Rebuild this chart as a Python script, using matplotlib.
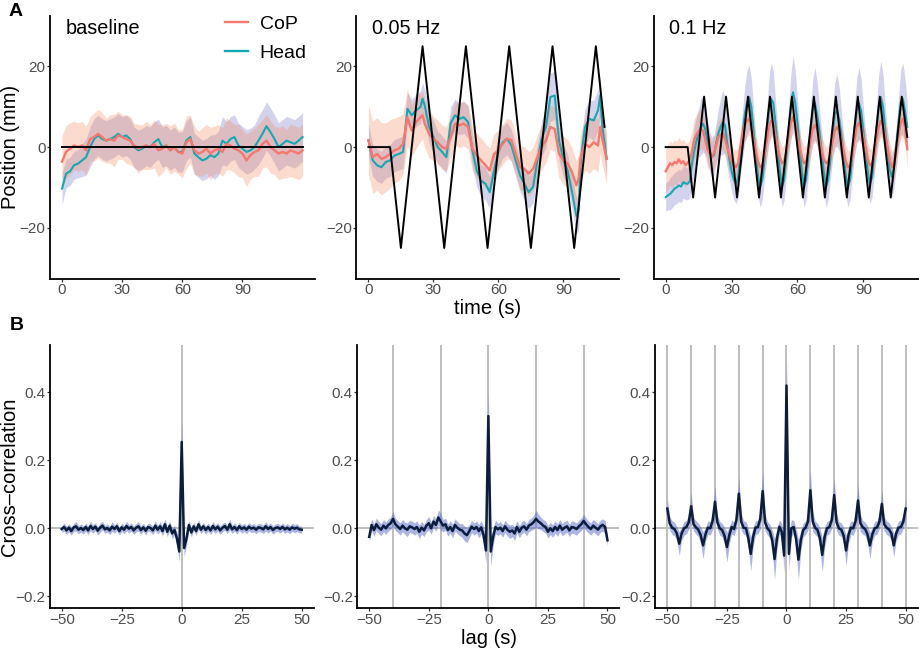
import numpy as np
import matplotlib
matplotlib.use('Agg')
import matplotlib.pyplot as plt
from matplotlib.lines import Line2D

plt.rcParams['font.family'] = ['Liberation Sans', 'DejaVu Sans']

# ---------------- Panel A data ----------------
panel_titles = ["baseline", "0.05 Hz", "0.1 Hz"]
series_names = ["CoP", "Head"]

# baseline (2 s steps, 0..120 s)
t_base = list(range(0, 121, 2))
cop_base = [-3.6, -1.2, -0.4, 0.4, 0.0, 0.4, -0.8, 2.0, 2.5, 3.3,
            2.5, 1.6, 2.0, 1.6, 2.9, 2.5, 2.0, 1.6, 0.4, -0.4,
            0.0, 0.4, 0.0, 0.8, -0.8, -0.4, 0.4, -0.8, 0.0, -1.2,
            -1.6, 1.2, 2.0, -0.8, -1.6, -1.2, -0.4, -1.6, -0.8, -0.4,
            -1.2, 0.8, 0.4, -0.4, -0.8, -1.6, -3.3, -2.0, -1.2, -0.8,
            0.8, 1.6, 0.0, -0.8, -1.6, -1.2, -1.6, -0.8, -1.2, -1.6,
            -0.8]
head_base = [-10.3, -6.6, -6.0, -4.5, -4.1, -3.3, -2.5, 0.0, 2.0, 2.9,
             2.0, 1.6, 2.0, 2.5, 3.3, 2.5, 2.9, 2.0, 0.0, -0.8,
             -0.4, 0.4, 0.0, 1.2, 2.0, 0.0, 0.4, -0.8, 0.0, -1.2,
             -1.2, 1.6, 2.5, -1.6, -2.5, -3.3, -2.9, -2.0, -2.5, -1.6,
             1.6, 0.8, 2.0, 2.5, 0.4, -0.4, -1.2, -0.8, 0.0, 1.6,
             3.3, 5.2, 3.7, 2.0, 0.0, 0.8, 1.6, 1.2, 0.8, 1.6,
             2.5]
cop_hw_base = [6.5, 6.5, 6.5, 6.0, 6.0, 6.0, 6.0, 5.5, 6.0, 6.0,
               6.0, 5.5, 6.0, 6.5, 6.0, 5.5, 6.0, 6.0, 5.5, 6.0,
               5.5, 6.0, 5.5, 6.0, 6.5, 6.0, 5.5, 6.0, 6.0, 5.5,
               6.0, 6.5, 6.0, 6.0, 5.5, 6.0, 6.0, 6.5, 6.0, 6.0,
               6.0, 6.5, 6.0, 6.0, 6.5, 6.0, 6.5, 6.0, 6.0, 6.5,
               6.0, 6.5, 6.5, 6.0, 6.5, 6.5, 6.0, 6.5, 6.5, 6.5,
               6.5]
head_hw_base = [4.0, 3.5, 3.5, 3.5, 3.5, 4.0, 4.5, 5.0, 5.0, 5.0,
                5.0, 5.0, 5.0, 5.0, 5.0, 5.0, 5.0, 5.0, 5.0, 5.0,
                5.0, 5.0, 5.0, 5.0, 5.0, 5.0, 5.0, 5.0, 5.0, 5.0,
                5.0, 5.0, 5.0, 5.0, 5.0, 5.0, 5.0, 5.0, 5.5, 5.5,
                6.0, 5.5, 5.5, 5.5, 5.5, 5.5, 5.5, 5.5, 5.5, 6.0,
                6.0, 6.0, 6.0, 6.0, 6.0, 6.0, 6.0, 6.0, 6.0, 6.0,
                6.0]
stim_base_t = [0, 120]
stim_base_v = [0, 0]

# 0.05 Hz
t_05 = [0, 2, 4, 6, 8, 10, 12, 14, 16, 18,
        20, 22, 24, 25, 26, 28, 30, 32, 34, 36,
        38, 40, 42, 44, 46, 48, 50, 52, 54, 56,
        58, 60, 62, 64, 66, 68, 70, 72, 74, 76,
        78, 80, 82, 84, 86, 88, 90, 92, 94, 96,
        97, 98, 100, 102, 104, 106, 107, 108, 110]
cop_05 = [1.7, -2.5, -1.7, -2.9, -2.5, -1.7, -0.8, -0.4, 0.8, 7.4,
          4.1, 6.2, 7.4, 7.9, 5.8, 3.3, 2.1, 1.2, 0.0, -0.4,
          2.5, 5.8, 5.4, 5.8, 5.0, -0.4, -2.1, -3.3, -4.5, -5.8,
          -1.7, -0.8, 0.8, 2.1, 1.7, -1.7, -5.0, -5.4, -6.6, -5.4,
          -2.5, 0.0, 1.7, 5.0, 4.5, -1.7, -3.3, -4.1, -6.2, -9.5,
          -8.0, -2.5, 0.8, 0.0, 1.2, 0.4, 5.0, 2.0, -2.9]
head_05 = [1.7, -3.3, -4.5, -5.0, -3.7, -3.3, -2.1, -1.7, -1.2, 9.5,
           7.9, 9.1, 9.9, 12.0, 10.3, 5.0, 2.5, 0.0, -1.2, -2.5,
           6.0, 7.9, 7.0, 7.4, 6.2, -0.8, -5.8, -8.3, -9.1, -11.2,
           -5.8, -1.2, 1.2, 2.1, 0.4, -3.3, -7.0, -9.1, -11.2, -9.9,
           -3.3, 2.1, 5.0, 12.4, 12.8, 1.7, -3.3, -5.8, -11.2, -17.0,
           -16.0, -3.3, 5.0, 7.0, 6.6, 9.1, 12.8, 5.0, -2.9]
cop_hw_05 = [8.5, 9.0, 9.0, 9.0, 8.5, 8.5, 8.0, 8.0, 7.5, 7.0,
             6.5, 6.5, 6.0, 6.0, 6.0, 6.0, 5.5, 5.5, 5.5, 5.5,
             5.5, 5.5, 5.5, 5.5, 5.5, 5.5, 5.5, 5.5, 5.5, 5.5,
             5.0, 5.0, 5.0, 5.0, 5.0, 5.0, 5.5, 5.5, 5.5, 5.5,
             5.5, 5.5, 5.5, 5.5, 5.5, 6.0, 6.0, 6.0, 6.0, 6.0,
             6.0, 6.0, 6.5, 6.5, 6.5, 6.5, 6.5, 6.5, 6.5]
head_hw_05 = [4.0, 4.0, 4.0, 4.0, 4.0, 4.0, 4.0, 4.0, 4.0, 4.0,
              4.0, 4.0, 4.0, 4.0, 4.0, 4.0, 4.0, 4.0, 4.0, 4.0,
              4.0, 4.0, 4.0, 4.0, 4.0, 4.0, 4.0, 4.0, 4.0, 4.0,
              4.0, 4.0, 4.0, 4.0, 4.0, 4.0, 4.0, 4.0, 4.0, 4.0,
              4.0, 4.5, 5.0, 6.0, 6.0, 5.0, 4.0, 4.0, 4.0, 4.5,
              4.5, 4.5, 4.5, 4.5, 5.0, 5.0, 5.0, 4.5, 4.0]
stim_05_t = [0, 10, 15, 25, 35, 45, 55, 65, 75, 85, 95, 105, 109]
stim_05_v = [0, 0, -25, 25, -25, 25, -25, 25, -25, 25, -25, 25, 5]

# 0.1 Hz (1 s steps, 0..110 s)
t_1 = list(range(0, 111))
cop_1 = [-6.0, -5.0, -4.0, -4.5, -3.7, -4.0, -3.0, -4.0, -3.5, -4.5,
         -4.0, -3.0, -1.0, 2.0, 3.0, 4.0, 4.5, 4.0, 2.0, -0.5,
         -1.5, -2.5, -1.5, 0.5, 2.5, 3.0, 3.5, 2.0, 0.0, -2.0,
         -3.5, -4.5, -5.0, -4.0, 0.0, 3.0, 5.5, 6.6, 7.0, 5.0,
         2.0, -1.0, -3.5, -5.0, -4.5, -2.0, 1.5, 5.0, 6.5, 6.0,
         3.0, 0.0, -2.5, -4.0, -3.5, -1.0, 3.0, 6.0, 7.5, 6.0,
         3.0, 0.0, -2.5, -4.0, -3.5, -1.5, 2.0, 4.5, 5.5, 4.5,
         2.0, -1.0, -3.0, -4.0, -3.5, -2.0, 1.5, 4.0, 5.0, 4.0,
         1.5, -1.0, -3.5, -5.0, -4.5, -2.0, 2.0, 5.0, 6.0, 5.0,
         2.5, 0.0, -3.0, -4.5, -4.0, -2.0, 2.0, 5.0, 6.5, 5.5,
         2.5, 0.0, -3.0, -5.0, -4.0, -1.0, 3.0, 6.0, 7.0, 5.0,
         -0.5]
head_1 = [-12.4, -12.0, -11.6, -11.0, -10.3, -10.0, -9.5, -9.8, -8.7, -9.0,
          -9.1, -8.5, -4.0, -1.0, 1.5, 3.5, 5.0, 5.8, 4.5, 1.5,
          -1.0, -2.5, -2.0, 1.0, 3.5, 5.0, 6.2, 5.5, 1.0, -3.0,
          -6.0, -8.0, -9.1, -7.5, -2.0, 3.0, 8.0, 11.0, 12.4, 10.0,
          4.0, -2.0, -7.0, -9.9, -8.0, -3.0, 3.0, 9.0, 12.0, 11.0,
          6.0, 0.0, -6.0, -9.9, -8.0, -2.0, 4.0, 10.0, 13.6, 11.0,
          6.0, 0.0, -6.0, -9.9, -8.0, -2.0, 4.0, 9.0, 10.8, 8.0,
          4.0, -1.0, -6.0, -9.9, -8.0, -3.0, 3.0, 8.0, 9.1, 7.0,
          3.0, -2.0, -7.0, -9.9, -8.0, -2.0, 4.0, 9.0, 10.8, 9.0,
          4.0, -1.0, -6.0, -9.1, -7.5, -2.0, 4.0, 10.0, 12.4, 10.0,
          4.0, -1.0, -5.5, -7.4, -5.0, 0.0, 6.0, 11.0, 12.0, 9.0,
          5.0]
cop_hw_1 = [5.5, 5.5, 5.5, 5.5, 5.5, 5.5, 5.5, 5.5, 5.5, 5.5,
            5.0, 5.0, 5.0, 5.0, 5.0, 5.0, 5.0, 4.5, 4.5, 4.5,
            4.0, 4.0, 4.0, 4.0, 4.0, 4.0, 4.0, 4.0, 4.0, 4.0,
            4.0, 4.0, 4.0, 4.0, 4.0, 4.0, 4.0, 4.0, 4.0, 4.0,
            4.0, 4.0, 4.0, 4.0, 4.0, 4.0, 4.0, 4.0, 4.0, 4.0,
            4.0, 4.0, 4.0, 4.0, 4.0, 4.0, 4.0, 4.0, 4.0, 4.0,
            4.0, 4.0, 4.0, 4.0, 4.0, 4.0, 4.0, 4.0, 4.0, 4.0,
            4.0, 4.0, 4.0, 4.0, 4.0, 4.0, 4.0, 4.0, 4.0, 4.0,
            4.0, 4.0, 4.0, 4.0, 4.0, 4.0, 4.0, 4.0, 4.0, 4.0,
            4.0, 4.0, 4.0, 4.0, 4.0, 4.0, 4.0, 4.0, 4.0, 4.0,
            4.0, 4.0, 4.0, 4.0, 4.0, 4.0, 4.0, 4.0, 4.5, 4.5,
            4.5]
head_hw_1 = [3.5, 3.5, 4.0, 4.0, 4.0, 4.0, 4.0, 4.0, 4.0, 4.0,
             4.0, 4.0, 5.0, 6.0, 6.0, 6.0, 7.0, 7.0, 6.0, 5.0,
             5.0, 5.0, 5.0, 5.0, 6.0, 7.0, 8.0, 7.0, 6.0, 5.0,
             5.0, 5.0, 5.0, 5.0, 5.0, 6.0, 7.0, 8.0, 8.0, 7.0,
             6.0, 5.0, 5.0, 5.0, 5.0, 5.0, 6.0, 8.0, 9.0, 8.0,
             6.0, 5.0, 5.0, 5.0, 5.0, 5.0, 6.0, 8.0, 9.0, 8.0,
             6.0, 5.0, 5.0, 5.0, 5.0, 5.0, 6.0, 8.0, 9.0, 8.0,
             6.0, 5.0, 5.0, 5.0, 5.0, 5.0, 6.0, 8.0, 9.0, 8.0,
             6.0, 5.0, 5.0, 5.0, 5.0, 5.0, 6.0, 8.0, 9.0, 8.0,
             6.0, 5.0, 5.0, 5.0, 5.0, 5.0, 6.0, 8.0, 9.0, 8.0,
             6.0, 5.0, 5.0, 5.0, 5.0, 5.0, 6.0, 8.0, 9.0, 8.0,
             6.0]
stim_1_t = [0, 10, 12.5, 17.5, 22.5, 27.5, 32.5, 37.5, 42.5, 47.5, 52.5,
            57.5, 62.5, 67.5, 72.5, 77.5, 82.5, 87.5, 92.5, 97.5, 102.5,
            107.5, 110]
stim_1_v = [0, 0, -12.5, 12.5, -12.5, 12.5, -12.5, 12.5, -12.5, 12.5, -12.5,
            12.5, -12.5, 12.5, -12.5, 12.5, -12.5, 12.5, -12.5, 12.5, -12.5,
            12.5, 2.5]

# ---------------- Panel B data ----------------
lags = list(range(-50, 51))
xc_base = [-0.002, 0.004, -0.006, 0.002, -0.008, 0.003, 0.006, -0.004, 0.001, -0.005,
           0.004, -0.006, 0.007, -0.002, 0.005, -0.007, 0.002, 0.008, -0.003, 0.001,
           -0.006, 0.005, -0.002, 0.006, -0.008, 0.003, -0.004, 0.007, -0.001, 0.004,
           -0.006, 0.002, 0.006, -0.005, 0.003, -0.007, 0.004, 0.001, -0.006, 0.008,
           -0.004, 0.006, -0.008, 0.012, -0.010, 0.008, -0.015, -0.005, -0.030, -0.068,
           0.254,
           -0.058, -0.030, 0.010, -0.012, 0.006, -0.008, 0.012, -0.004, 0.006, -0.005,
           0.004, -0.006, 0.007, -0.003, 0.005, -0.006, 0.002, 0.007, -0.004, 0.012,
           -0.003, 0.004, -0.005, 0.006, -0.002, 0.003, -0.004, 0.005, -0.001, 0.002,
           -0.004, 0.003, 0.001, -0.003, 0.006, -0.002, 0.004, -0.005, 0.001, 0.003,
           -0.002, 0.004, -0.003, 0.002, -0.004, 0.003, -0.001, 0.002, -0.003, -0.004]
xc_base_hw = [0.010, 0.012, 0.012, 0.012, 0.012, 0.012, 0.014, 0.012, 0.012, 0.012,
              0.012, 0.012, 0.014, 0.012, 0.012, 0.012, 0.014, 0.012, 0.012, 0.012,
              0.012, 0.014, 0.012, 0.012, 0.012, 0.012, 0.012, 0.014, 0.012, 0.012,
              0.012, 0.012, 0.014, 0.012, 0.012, 0.012, 0.012, 0.012, 0.012, 0.014,
              0.012, 0.014, 0.014, 0.016, 0.014, 0.014, 0.016, 0.014, 0.020, 0.030,
              0.060,
              0.025, 0.020, 0.014, 0.014, 0.012, 0.012, 0.014, 0.012, 0.012, 0.012,
              0.012, 0.012, 0.014, 0.012, 0.012, 0.012, 0.012, 0.012, 0.012, 0.016,
              0.012, 0.012, 0.012, 0.012, 0.012, 0.012, 0.012, 0.012, 0.012, 0.012,
              0.012, 0.012, 0.012, 0.012, 0.014, 0.012, 0.012, 0.012, 0.012, 0.012,
              0.012, 0.012, 0.012, 0.012, 0.012, 0.012, 0.012, 0.012, 0.010, 0.010]
xc_05 = [-0.025, 0.010, -0.005, 0.012, 0.002, -0.004, 0.008, 0.000, 0.010, 0.015,
         0.028, 0.012, 0.005, -0.002, 0.008, 0.000, -0.004, 0.006, 0.003, -0.002,
         0.004, -0.010, 0.002, -0.006, 0.008, 0.015, 0.000, 0.020, 0.010, 0.032,
         0.020, 0.008, 0.012, -0.005, 0.004, -0.008, 0.010, 0.002, -0.004, -0.006,
         -0.015, -0.020, -0.008, 0.005, -0.002, 0.004, -0.008, 0.003, -0.020, -0.065,
         0.330,
         -0.068, -0.025, 0.004, -0.003, 0.002, -0.008, 0.006, -0.004, -0.010, -0.006,
         -0.015, 0.004, -0.010, 0.002, 0.006, -0.004, 0.008, 0.012, 0.018, 0.028,
         0.020, 0.015, 0.008, 0.004, -0.010, 0.000, -0.008, 0.004, -0.005, 0.008,
         -0.004, 0.002, 0.006, -0.006, 0.004, 0.002, -0.002, 0.006, 0.012, 0.022,
         0.012, 0.004, -0.002, 0.008, 0.002, -0.004, 0.006, 0.010, 0.004, -0.035]
xc_05_hw = [0.015, 0.018, 0.018, 0.018, 0.018, 0.018, 0.018, 0.018, 0.018, 0.018,
            0.022, 0.018, 0.018, 0.018, 0.018, 0.018, 0.020, 0.018, 0.018, 0.018,
            0.018, 0.020, 0.018, 0.018, 0.018, 0.020, 0.018, 0.018, 0.018, 0.022,
            0.025, 0.018, 0.018, 0.018, 0.018, 0.020, 0.018, 0.018, 0.018, 0.020,
            0.022, 0.022, 0.020, 0.018, 0.018, 0.018, 0.020, 0.020, 0.025, 0.040,
            0.080,
            0.045, 0.025, 0.020, 0.018, 0.018, 0.018, 0.018, 0.018, 0.020, 0.018,
            0.020, 0.018, 0.018, 0.018, 0.018, 0.018, 0.018, 0.018, 0.020, 0.025,
            0.022, 0.018, 0.018, 0.018, 0.018, 0.018, 0.018, 0.018, 0.018, 0.018,
            0.018, 0.018, 0.018, 0.018, 0.018, 0.018, 0.018, 0.018, 0.018, 0.020,
            0.018, 0.018, 0.018, 0.018, 0.018, 0.018, 0.018, 0.018, 0.018, 0.015]
xc_1 = [0.058, 0.015, 0.002, -0.002, -0.015, -0.045, -0.015, 0.000, 0.004, 0.018,
        0.065, 0.012, 0.003, -0.004, -0.020, -0.050, -0.018, 0.002, 0.000, 0.022,
        0.078, 0.018, 0.000, -0.005, -0.022, -0.055, -0.020, 0.004, -0.002, 0.025,
        0.102, 0.020, 0.002, 0.000, -0.030, -0.075, -0.025, 0.002, 0.004, 0.028,
        0.110, 0.018, 0.000, -0.008, -0.035, -0.090, -0.030, 0.005, -0.010, -0.080,
        0.420,
        -0.075, 0.000, 0.004, -0.030, -0.092, -0.035, -0.005, 0.002, 0.020, 0.112,
        0.020, 0.002, -0.005, -0.028, -0.078, -0.025, 0.000, 0.004, 0.025, 0.098,
        0.018, 0.000, -0.004, -0.022, -0.065, -0.020, 0.002, 0.000, 0.022, 0.082,
        0.015, 0.003, -0.002, -0.018, -0.050, -0.018, 0.000, 0.003, 0.020, 0.072,
        0.012, 0.002, -0.003, -0.015, -0.050, -0.015, 0.002, 0.004, 0.020, 0.058]
xc_1_hw = [0.030, 0.020, 0.020, 0.020, 0.020, 0.035, 0.020, 0.020, 0.020, 0.020,
           0.040, 0.020, 0.020, 0.020, 0.025, 0.040, 0.020, 0.020, 0.020, 0.025,
           0.045, 0.020, 0.020, 0.020, 0.025, 0.045, 0.025, 0.020, 0.020, 0.025,
           0.050, 0.025, 0.020, 0.020, 0.030, 0.050, 0.030, 0.020, 0.020, 0.030,
           0.060, 0.025, 0.020, 0.020, 0.030, 0.060, 0.030, 0.020, 0.025, 0.050,
           0.080,
           0.050, 0.025, 0.020, 0.030, 0.060, 0.030, 0.020, 0.020, 0.025, 0.060,
           0.030, 0.020, 0.020, 0.030, 0.050, 0.030, 0.020, 0.020, 0.025, 0.050,
           0.025, 0.020, 0.020, 0.025, 0.045, 0.025, 0.020, 0.020, 0.025, 0.045,
           0.025, 0.020, 0.020, 0.025, 0.040, 0.020, 0.020, 0.020, 0.020, 0.040,
           0.020, 0.020, 0.020, 0.020, 0.035, 0.020, 0.020, 0.020, 0.020, 0.030]
vlines = [[0], [-40, -20, 0, 20, 40],
          [-50, -40, -30, -20, -10, 0, 10, 20, 30, 40, 50]]

# ---------------- styling ----------------
COP = '#F8766D'
HEAD = '#13A9B2'
COP_BAND = '#F48A5A'
HEAD_BAND = '#6E6EC8'
NAVY = '#0B1C3D'
XC_BAND = '#5A6BCB'
GREY_REF = '#BEBEBE'
TICK_TXT = '#4D4D4D'

W, H = 920, 650
fig = plt.figure(figsize=(W / 100, H / 100), dpi=100)


def add_ax(l, t, r, b):
    return fig.add_axes([l / W, 1 - b / H, (r - l) / W, (b - t) / H])


def style(ax):
    for s in ['top', 'right']:
        ax.spines[s].set_visible(False)
    for s in ['left', 'bottom']:
        ax.spines[s].set_linewidth(1.3)
        ax.spines[s].set_color('black')
    ax.tick_params(axis='both', length=2, width=0.9, color='#333333',
                   labelcolor=TICK_TXT, labelsize=11, pad=1.2)


top_boxes = [(50, 16, 314.6, 279), (356.5, 16, 618.6, 279), (653.6, 16, 919.3, 279)]
bot_boxes = [(49.7, 345, 313.7, 608.3), (357.3, 345, 619.4, 608.3), (655.4, 345, 917.6, 608.3)]

A_data = [
    (t_base, cop_base, head_base, cop_hw_base, head_hw_base, stim_base_t, stim_base_v, (-6, 126)),
    (t_05, cop_05, head_05, cop_hw_05, head_hw_05, stim_05_t, stim_05_v, (-5.5, 115.5)),
    (t_1, cop_1, head_1, cop_hw_1, head_hw_1, stim_1_t, stim_1_v, (-5.5, 115.5)),
]

for i, (box, d) in enumerate(zip(top_boxes, A_data)):
    t, cop, head, chw, hhw, st, sv, xl = d
    t = np.array(t, float); cop = np.array(cop); head = np.array(head)
    chw = np.array(chw); hhw = np.array(hhw)
    ax = add_ax(*box)
    style(ax)
    ax.fill_between(t, head - hhw, head + hhw, color=HEAD_BAND, alpha=0.3, lw=0)
    ax.fill_between(t, cop - chw, cop + chw, color=COP_BAND, alpha=0.3, lw=0)
    ax.plot(t, head, color=HEAD, lw=1.5)
    ax.plot(t, cop, color=COP, lw=1.7)
    ax.plot(st, sv, color='black', lw=1.4)
    ax.set_xlim(*xl)
    ax.set_ylim(-32.7, 32.5)
    ax.set_xticks([0, 30, 60, 90])
    ax.set_yticks([-20, 0, 20])
    ax.text(0.058, 0.99, panel_titles[i], transform=ax.transAxes,
            ha='left', va='top', fontsize=14.3)
    if i == 0:
        handles = [Line2D([], [], color=COP, lw=1.7), Line2D([], [], color=HEAD, lw=1.7)]
        ax.legend(handles, series_names, loc='upper left', bbox_to_anchor=(0.66, 1.003),
                  frameon=False, fontsize=14, handlelength=1.2, handletextpad=0.6,
                  labelspacing=0.6, borderpad=0, borderaxespad=0)

B_data = [(xc_base, xc_base_hw), (xc_05, xc_05_hw), (xc_1, xc_1_hw)]
for i, (box, (xc, hw)) in enumerate(zip(bot_boxes, B_data)):
    ax = add_ax(*box)
    style(ax)
    x = np.array(lags, float); xc = np.array(xc); hw = np.array(hw)
    ax.axhline(0, color=GREY_REF, lw=1.4, zorder=0.5)
    for v in vlines[i]:
        ax.axvline(v, color=GREY_REF, lw=1.4, zorder=0.5)
    ax.fill_between(x, xc - hw, xc + hw, color=XC_BAND, alpha=0.5, lw=0)
    ax.plot(x, xc, color=NAVY, lw=1.8)
    ax.set_xlim(-55, 55)
    ax.set_ylim(-0.235, 0.539)
    ax.set_xticks([-50, -25, 0, 25, 50])
    ax.set_yticks([-0.2, 0.0, 0.2, 0.4])
    ax.set_yticklabels(['\u22120.2', '0.0', '0.2', '0.4'])

fig.text(11 / W, 1 - 147 / H, 'Position (mm)', rotation=90, ha='center', va='center', fontsize=14.5)
fig.text(10 / W, 1 - 477 / H, 'Cross\u2013correlation', rotation=90, ha='center', va='center', fontsize=14.5)
fig.text(488 / W, 1 - 308 / H, 'time (s)', ha='center', va='center', fontsize=14.5)
fig.text(489 / W, 1 - 638 / H, 'lag (s)', ha='center', va='center', fontsize=14.5)
fig.text(16 / W, 1 - 11 / H, 'A', ha='center', va='center', fontsize=14, fontweight='bold')
fig.text(17 / W, 1 - 325 / H, 'B', ha='center', va='center', fontsize=14, fontweight='bold')

fig.savefig('out.png', dpi=100)
